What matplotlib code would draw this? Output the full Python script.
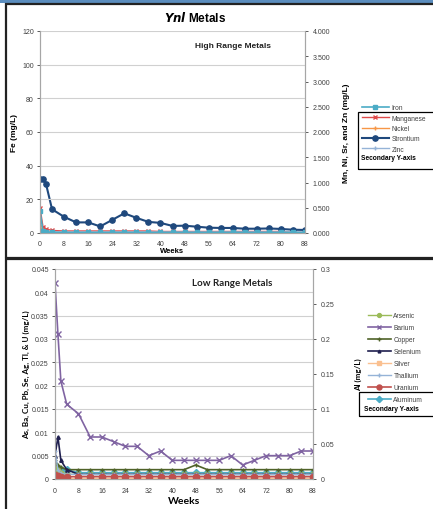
import matplotlib
matplotlib.use('Agg')
import matplotlib.pyplot as plt
from matplotlib.patches import Rectangle

plt.rcParams['font.family'] = ['Liberation Sans', 'DejaVu Sans']

# ---- data ----
weeks = [0, 1, 2, 4, 8, 12, 16, 20, 24, 28, 32, 36, 40, 44, 48, 52, 56, 60, 64, 68, 72, 76, 80, 84, 88]
week_ticks = [0, 8, 16, 24, 32, 40, 48, 56, 64, 72, 80, 88]

# high range (Fe on primary axis, rest on secondary)
iron = [13, 1.0, 0.6, 0.4, 0.3, 0.3, 0.3, 0.3, 0.3, 0.3, 0.3, 0.3, 0.3, 0.3, 0.3, 0.3, 0.3, 0.3, 0.3, 0.3, 0.3, 0.3, 0.3, 0.3, 0.3]
manganese = [0.50, 0.12, 0.08, 0.05, 0.04, 0.04, 0.04, 0.04, 0.04, 0.04, 0.04, 0.04, 0.03, 0.03, 0.03, 0.03, 0.03, 0.03, 0.03, 0.03, 0.03, 0.03, 0.03, 0.01, 0.01]
nickel = [0.13, 0.05, 0.02, 0.01, 0.01, 0.01, 0.01, 0.01, 0.01, 0.01, 0.01, 0.01, 0.01, 0.01, 0.01, 0.01, 0.01, 0.01, 0.01, 0.01, 0.01, 0.01, 0.01, 0.01, 0.01]
strontium = [1.07, 1.07, 0.97, 0.47, 0.32, 0.21, 0.21, 0.13, 0.26, 0.39, 0.30, 0.22, 0.20, 0.14, 0.145, 0.125, 0.105, 0.10, 0.10, 0.085, 0.085, 0.09, 0.08, 0.065, 0.06]
zinc = [0.03, 0.02, 0.02, 0.02, 0.02, 0.02, 0.02, 0.02, 0.02, 0.02, 0.02, 0.02, 0.02, 0.02, 0.02, 0.02, 0.02, 0.02, 0.02, 0.02, 0.02, 0.02, 0.02, 0.02, 0.02]

# low range (Al on secondary axis)
arsenic = [0.003, 0.002, 0.0012, 0.001, 0.001, 0.001, 0.001, 0.001, 0.001, 0.001, 0.001, 0.001, 0.001, 0.001, 0.001, 0.001, 0.001, 0.001, 0.001, 0.001, 0.001, 0.001, 0.001, 0.001, 0.001]
barium = [0.042, 0.031, 0.021, 0.016, 0.014, 0.009, 0.009, 0.008, 0.007, 0.007, 0.005, 0.006, 0.004, 0.004, 0.004, 0.004, 0.004, 0.005, 0.003, 0.004, 0.005, 0.005, 0.005, 0.006, 0.006]
copper = [0.004, 0.003, 0.0025, 0.002, 0.002, 0.002, 0.002, 0.002, 0.002, 0.002, 0.002, 0.002, 0.002, 0.002, 0.003, 0.002, 0.002, 0.002, 0.002, 0.002, 0.002, 0.002, 0.002, 0.002, 0.002]
selenium = [0.005, 0.009, 0.004, 0.002, 0.001, 0.001, 0.001, 0.001, 0.001, 0.001, 0.001, 0.001, 0.001, 0.001, 0.001, 0.001, 0.001, 0.001, 0.001, 0.001, 0.001, 0.001, 0.001, 0.001, 0.001]
silver = [0.0003] * 25
thallium = [0.006, 0.002, 0.0012, 0.001, 0.001, 0.001, 0.001, 0.001, 0.001, 0.001, 0.001, 0.001, 0.001, 0.001, 0.001, 0.001, 0.001, 0.001, 0.001, 0.001, 0.001, 0.001, 0.001, 0.001, 0.001]
uranium = [0.0008, 0.0006, 0.0005, 0.0005, 0.0005, 0.0005, 0.0005, 0.0005, 0.0005, 0.0005, 0.0005, 0.0005, 0.0005, 0.0005, 0.0005, 0.0005, 0.0005, 0.0005, 0.0005, 0.0005, 0.0005, 0.0005, 0.0005, 0.0005, 0.0005]
aluminum = [0.013, 0.013, 0.013, 0.013, 0.009, 0.009, 0.009, 0.009, 0.009, 0.009, 0.009, 0.009, 0.009, 0.009, 0.009, 0.009, 0.009, 0.009, 0.009, 0.009, 0.009, 0.009, 0.009, 0.009, 0.009]

W, H = 433.0, 510.0
fig = plt.figure(figsize=(4.33, 5.10), dpi=100)
fig.patch.set_facecolor('white')

def fx(px):
  return px / W

def fy(py):
  return 1 - py / H

grey = '#A6A6A6'
gridc = '#D0D0D0'

def style_axes(ax, ax2):
  ax.spines['top'].set_visible(False)
  ax2.spines['top'].set_visible(False)
  for s in ['left', 'bottom', 'right']:
    ax.spines[s].set_color(grey)
    ax2.spines[s].set_color(grey)
  ax.grid(axis='y', color=gridc, linewidth=0.8)
  ax.set_axisbelow(True)
  ax.tick_params(axis='both', colors='#404040', length=2.5, width=0.6, labelsize=5, pad=2)
  ax2.tick_params(axis='y', colors='#404040', length=2.5, width=0.6, labelsize=5, pad=3)
  ax.tick_params(axis='x', length=0)
  ax.set_xlim(0, 88)
  ax.set_xticks(week_ticks)

# ---------- top panel ----------
ax = fig.add_axes([fx(40), fy(234), fx(305) - fx(40), fy(32) - fy(234)])
ax2 = ax.twinx()
style_axes(ax, ax2)
ax.set_ylim(0, 120)
ax.set_yticks(range(0, 121, 20))
ax2.set_ylim(0, 4.0)
ax2.set_yticks([i * 0.5 for i in range(9)])
ax2.set_yticklabels(['%.3f' % (i * 0.5) for i in range(9)])
ax.tick_params(axis='x', pad=5)

l_fe, = ax.plot(weeks, iron, color='#4BACC6', marker='s', markersize=2.5, linewidth=1.2)
l_mn, = ax2.plot(weeks, manganese, color='#E04B4B', marker='x', markersize=3, linewidth=1.0)
l_ni, = ax2.plot(weeks, nickel, color='#F79646', marker='+', markersize=3, linewidth=1.0)
l_sr, = ax2.plot(weeks, strontium, color='#1F497D', marker='o', markersize=3.8, linewidth=1.5)
l_zn, = ax2.plot(weeks, zinc, color='#95B3D7', marker='+', markersize=3, linewidth=1.0)
ax.set_zorder(ax2.get_zorder() + 1)
ax.patch.set_visible(False)

ax.set_xlabel('Weeks', fontsize=5.5, fontweight='bold', labelpad=0)
ax.set_ylabel('Fe (mg/L)', fontsize=6, fontweight='bold', labelpad=3)
ax2.set_ylabel('Mn, Ni, Sr, and Zn (mg/L)', fontsize=6, fontweight='bold', labelpad=9)
fig.text(fx(195), fy(18), r'$\mathbfit{Ynl}$ Metals', fontsize=8.5, fontweight='bold',
         ha='center', va='center')
fig.text(fx(233), fy(46), 'High Range Metals', fontsize=6, fontweight='bold',
         ha='center', va='center', color='#222222')

leg = fig.legend([l_fe, l_mn, l_ni, l_sr, l_zn], ['Iron', 'Manganese', 'Nickel', 'Strontium', 'Zinc'],
                 loc='upper left', bbox_to_anchor=(fx(362), fy(105.5)), frameon=False,
                 fontsize=4.8, handlelength=4.0, labelspacing=0.5, handletextpad=0.4,
                 borderpad=0, borderaxespad=0)
for t in leg.get_texts():
  t.set_color('#404040')
fig.add_artist(Rectangle((fx(358), fy(170)), fx(440) - fx(358), fy(113) - fy(170),
                         transform=fig.transFigure, fill=False, edgecolor='black', linewidth=0.9))
fig.text(fx(361), fy(159), 'Secondary Y-axis', fontsize=4.8, fontweight='bold', va='center')

# ---------- bottom panel ----------
bx = fig.add_axes([fx(55), fy(480), fx(313) - fx(55), fy(270) - fy(480)])
bx2 = bx.twinx()
style_axes(bx, bx2)
bx.set_ylim(0, 0.045)
bx.set_yticks([i * 0.005 for i in range(10)])
bx.set_yticklabels(['0', '0.005', '0.01', '0.015', '0.02', '0.025', '0.03', '0.035', '0.04', '0.045'])
bx2.set_ylim(0, 0.3)
bx2.set_yticks([i * 0.05 for i in range(7)])
bx2.set_yticklabels(['0', '0.05', '0.1', '0.15', '0.2', '0.25', '0.3'])
bx.tick_params(axis='x', pad=6)

b_as, = bx.plot(weeks, arsenic, color='#9BBB59', marker='o', markersize=3.5, linewidth=1.0)
b_ba, = bx.plot(weeks, barium, color='#8064A2', marker='x', markersize=4, linewidth=1.2)
b_cu, = bx.plot(weeks, copper, color='#4F6228', marker='+', markersize=3, linewidth=1.2)
b_se, = bx.plot(weeks, selenium, color='#1F1F4F', marker='^', markersize=2.5, linewidth=1.2)
b_ag, = bx.plot(weeks, silver, color='#FAC090', marker='s', markersize=3, linewidth=1.0)
b_tl, = bx.plot(weeks, thallium, color='#95B3D7', marker='+', markersize=3.5, linewidth=1.0)
b_u, = bx.plot(weeks, uranium, color='#C0504D', marker='o', markersize=4.5, linewidth=1.2)
b_al, = bx2.plot(weeks, aluminum, color='#4BACC6', marker='D', markersize=4, linewidth=1.2)
bx.set_zorder(bx2.get_zorder() + 1)
bx.patch.set_visible(False)

bx.set_xlabel('Weeks', fontsize=7.5, fontweight='bold', family=['Lato', 'DejaVu Sans'], labelpad=1)
bx.set_ylabel('As, Ba, Cu, Pb, Se, Ag, Tl, & U (mg/L)', fontsize=5.8, fontweight='bold',
              family=['Lato', 'DejaVu Sans'], labelpad=1)
bx2.set_ylabel('Al (mg/L)', fontsize=5.8, fontweight='bold', family=['Lato', 'DejaVu Sans'], labelpad=15)
fig.text(fx(232), fy(283), 'Low Range Metals', fontsize=7, fontweight='bold',
         family=['Lato', 'DejaVu Sans'], ha='center', va='center', color='#222222')

leg2 = fig.legend([b_as, b_ba, b_cu, b_se, b_ag, b_tl, b_u, b_al],
                  ['Arsenic', 'Barium', 'Copper', 'Selenium', 'Silver', 'Thallium', 'Uranium', 'Aluminum'],
                  loc='upper left', bbox_to_anchor=(fx(368), fy(313.5)), frameon=False,
                  fontsize=4.8, handlelength=3.4, labelspacing=0.74, handletextpad=0.4,
                  borderpad=0, borderaxespad=0, markerscale=0.8)
for t in leg2.get_texts():
  t.set_color('#404040')
fig.add_artist(Rectangle((fx(359), fy(417)), fx(440) - fx(359), fy(393) - fy(417),
                         transform=fig.transFigure, fill=False, edgecolor='black', linewidth=0.9))
fig.text(fx(364), fy(409.5), 'Secondary Y-axis', fontsize=4.8, fontweight='bold', va='center')

# ---------- panel frames ----------
fig.add_artist(Rectangle((0, fy(4)), 1, 4 / H, transform=fig.transFigure,
                         facecolor='#5B8DBE', edgecolor='none'))
fig.add_artist(Rectangle((fx(6), fy(259)), fx(440) - fx(6), fy(5) - fy(259), transform=fig.transFigure,
                         fill=False, edgecolor='#222222', linewidth=1.6))
fig.add_artist(Rectangle((fx(6), fy(515)), fx(440) - fx(6), fy(260) - fy(515), transform=fig.transFigure,
                         fill=False, edgecolor='#222222', linewidth=1.6))

fig.savefig('out.png', dpi=100)
plt.close()
